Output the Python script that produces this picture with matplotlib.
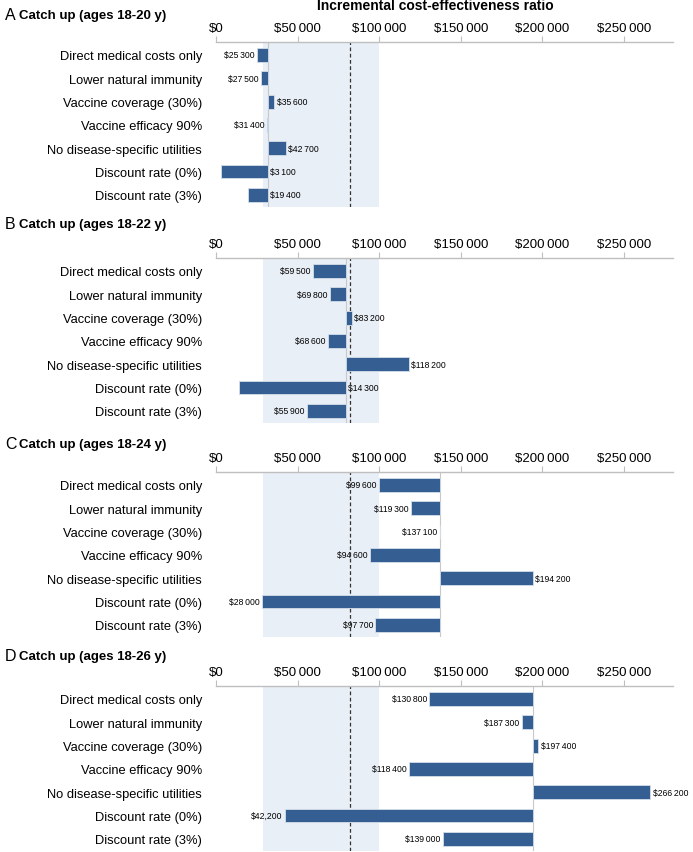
import numpy as np
import matplotlib.pyplot as plt

plt.rcParams['font.family'] = ['Liberation Sans', 'DejaVu Sans']

# parameters varied in the sensitivity analysis
params = ['Direct medical costs only', 'Lower natural immunity', 'Vaccine coverage (30%)',
          'Vaccine efficacy 90%', 'No disease-specific utilities', 'Discount rate (0%)',
          'Discount rate (3%)']

panel_letters = ['A', 'B', 'C', 'D']
panel_titles = ['Catch up (ages 18-20 y)', 'Catch up (ages 18-22 y)',
                'Catch up (ages 18-24 y)', 'Catch up (ages 18-26 y)']

# base-case ICER of each scenario
base_icer = [31600, 79400, 137300, 194300]

icer_a = [25300, 27500, 35600, 31400, 42700, 3100, 19400]
icer_b = [59500, 69800, 83200, 68600, 118200, 14300, 55900]
icer_c = [99600, 119300, 137100, 94600, 194200, 28000, 97700]
icer_d = [130800, 187300, 197400, 118400, 266200, 42200, 139000]
icers = [icer_a, icer_b, icer_c, icer_d]

threshold = 82000
shade_lo, shade_hi = 29000, 100000
xticks = [0, 50000, 100000, 150000, 200000, 250000]

# label printed with a comma in the original figure
label_override = {(3, 5): '$42,200'}


def money(v):
    return '$' + f'{v:,}'.replace(',', '\u2009')


W, H = 693, 853
fig = plt.figure(figsize=(W / 100, H / 100), dpi=100)

tops = [43, 259, 473, 687]
title_y = [16, 225, 445, 657]
ax_h = 165
bar_color = '#355F93'

for p in range(4):
    ax = fig.add_axes([216 / W, 1 - (tops[p] + ax_h) / H, 457 / W, ax_h / H])
    base = base_icer[p]
    vals = icers[p]
    y = np.arange(len(params))

    ax.axvspan(shade_lo, shade_hi, color='#E9EFF7', zorder=0, lw=0)
    ax.axvline(threshold, color='#333333', lw=0.9, ls=(0, (3, 2)), zorder=2)
    ax.axvline(base, color='#c8c8c8', lw=0.8, zorder=1)

    widths = [v - base for v in vals]
    ax.barh(y, widths, left=base, height=0.6, color=bar_color,
            edgecolor='#d5deea', linewidth=0.6, zorder=3)

    for i, v in enumerate(vals):
        txt = label_override.get((p, i), money(v))
        if v < base:
            if v < 22000:
                ax.text(base + 1500, i, txt, ha='left', va='center', fontsize=6.2, zorder=1.5)
            else:
                ax.text(v - 1500, i, txt, ha='right', va='center', fontsize=6.2, zorder=1.5)
        else:
            ax.text(v + 1500, i, txt, ha='left', va='center', fontsize=6.2, zorder=1.5)

    ax.set_xlim(0, 280000)
    ax.set_ylim(6 + 12.2 / 23.3, -13 / 23.3)
    ax.xaxis.tick_top()
    ax.set_xticks(xticks)
    ax.set_xticklabels([money(t) for t in xticks])
    ax.tick_params(axis='x', direction='out', length=4, color='#bfbfbf', pad=2,
                   labelsize=9.5, width=0.8)
    ax.set_yticks(y)
    ax.set_yticklabels(params, fontsize=9.3)
    ax.tick_params(axis='y', length=0, pad=10)
    for s in ['left', 'right', 'bottom']:
        ax.spines[s].set_visible(False)
    ax.spines['top'].set_color('#bfbfbf')
    ax.spines['top'].set_linewidth(1)

    fig.text(5 / W, 1 - title_y[p] / H, panel_letters[p], fontsize=11.5, va='center', ha='left')
    fig.text(19 / W, 1 - title_y[p] / H, panel_titles[p], fontsize=9.5, fontweight='bold',
             va='center', ha='left')

fig.text(435 / W, 1 - 6 / H, 'Incremental cost-effectiveness ratio', fontsize=10,
         fontweight='bold', ha='center', va='center')

fig.savefig('out.png', dpi=100)
